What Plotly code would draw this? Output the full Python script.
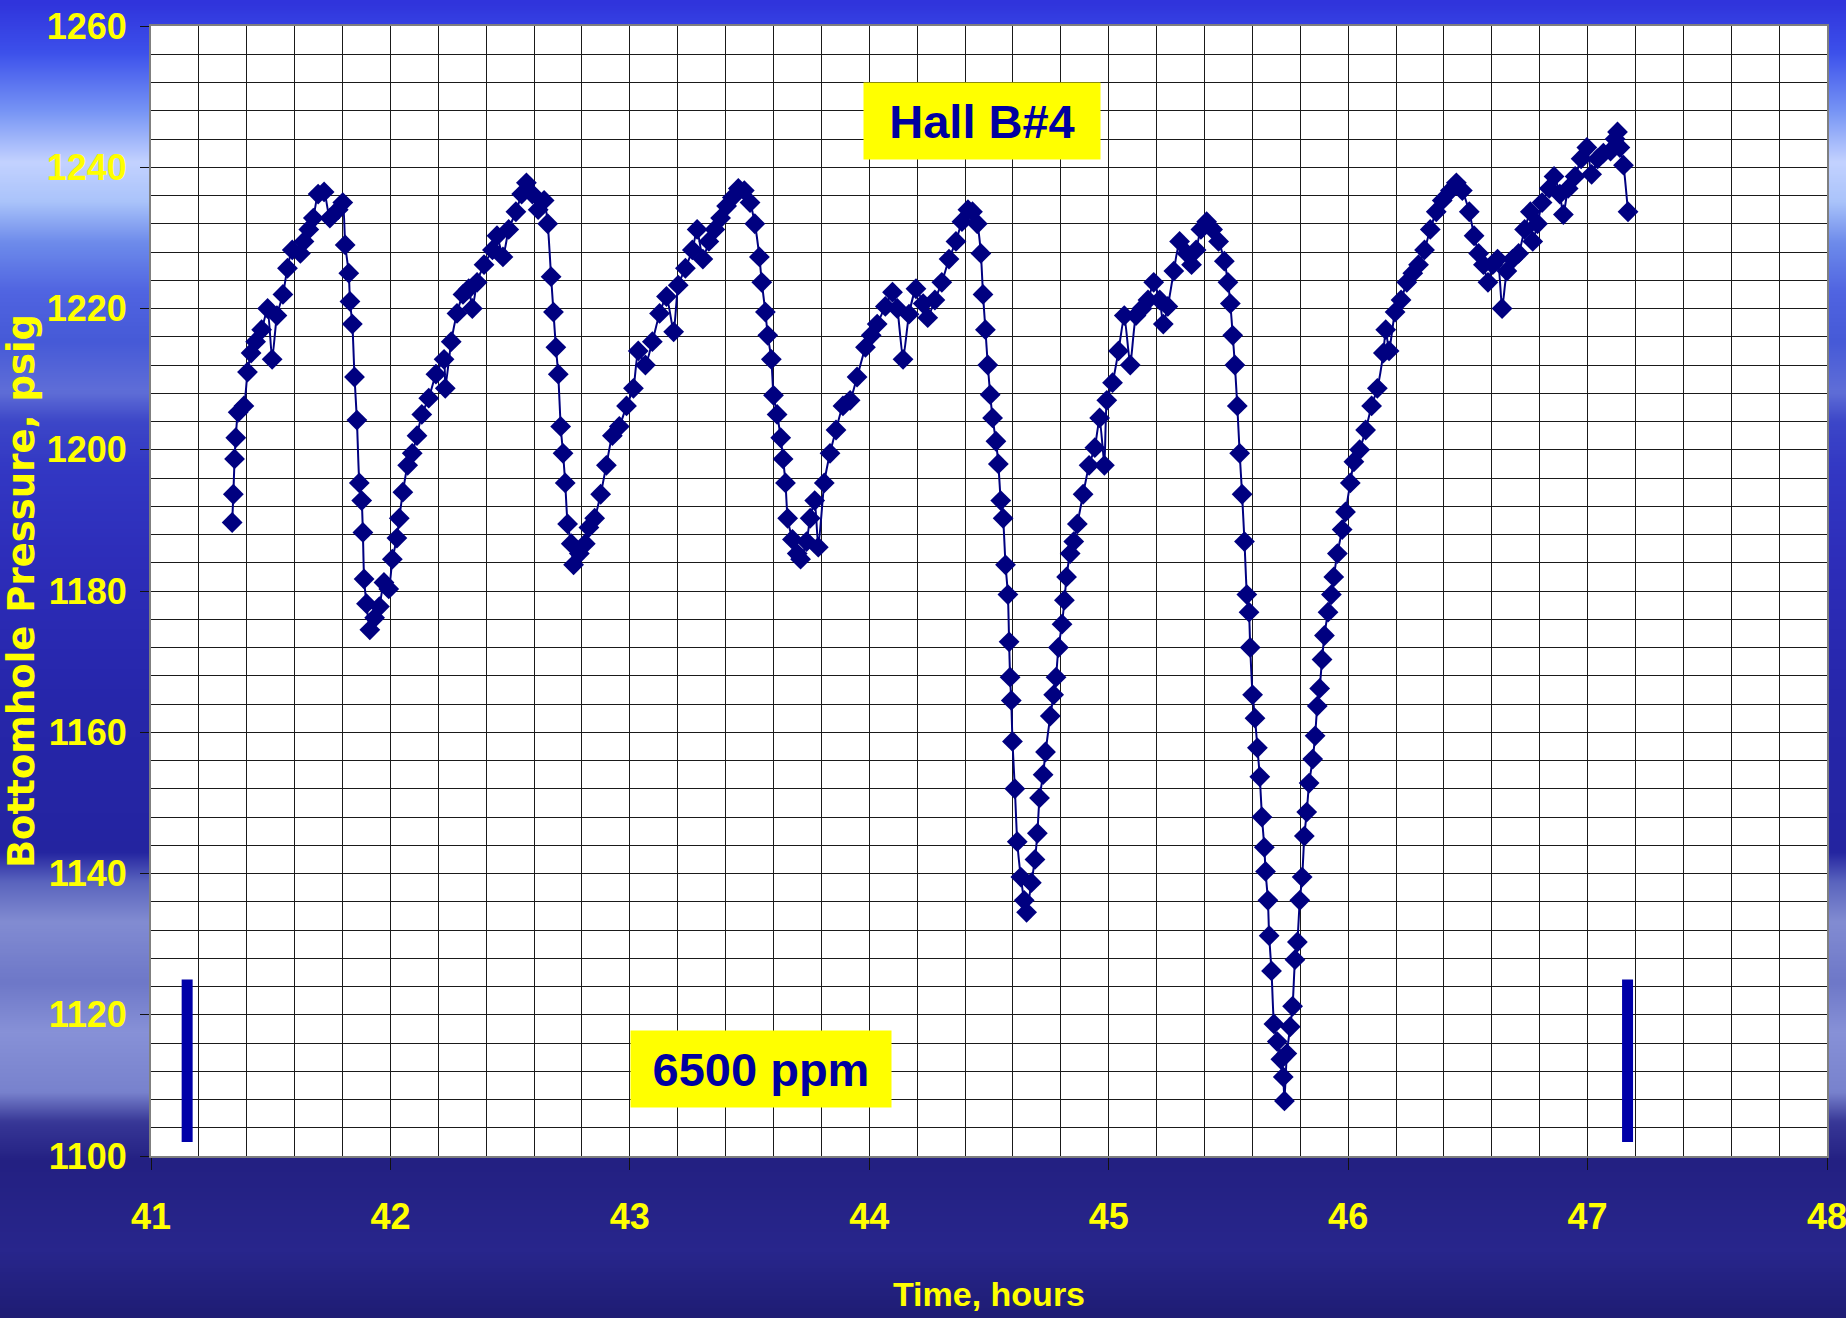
import base64, struct, zlib
import plotly.graph_objects as go

# ---------------- data ----------------
time_h = [
    41.339, 41.344, 41.349, 41.354, 41.364, 41.388, 41.403, 41.418, 41.437, 41.462,
    41.487, 41.506, 41.526, 41.551, 41.570, 41.590, 41.624, 41.639, 41.659, 41.678,
    41.698, 41.723, 41.747, 41.782, 41.801, 41.811, 41.826, 41.831, 41.841, 41.850,
    41.860, 41.870, 41.880, 41.885, 41.890, 41.900, 41.914, 41.934, 41.954, 41.973,
    41.993, 42.008, 42.027, 42.037, 42.052, 42.072, 42.091, 42.111, 42.131, 42.160,
    42.190, 42.224, 42.229, 42.254, 42.278, 42.303, 42.327, 42.342, 42.362, 42.391,
    42.426, 42.445, 42.470, 42.494, 42.524, 42.548, 42.568, 42.593, 42.617, 42.642,
    42.657, 42.671, 42.681, 42.691, 42.701, 42.711, 42.721, 42.730, 42.740, 42.755,
    42.765, 42.789, 42.814, 42.829, 42.853, 42.878, 42.902, 42.927, 42.956, 42.986,
    43.015, 43.035, 43.065, 43.094, 43.124, 43.153, 43.183, 43.202, 43.232, 43.261,
    43.281, 43.305, 43.330, 43.355, 43.379, 43.404, 43.428, 43.453, 43.478, 43.502,
    43.522, 43.541, 43.551, 43.566, 43.576, 43.591, 43.600, 43.615, 43.630, 43.640,
    43.650, 43.659, 43.679, 43.699, 43.713, 43.738, 43.753, 43.772, 43.787, 43.812,
    43.836, 43.861, 43.890, 43.920, 43.949, 43.984, 44.008, 44.033, 44.067, 44.097,
    44.117, 44.141, 44.166, 44.195, 44.225, 44.244, 44.274, 44.303, 44.333, 44.362,
    44.387, 44.412, 44.431, 44.451, 44.466, 44.475, 44.485, 44.495, 44.505, 44.515,
    44.529, 44.539, 44.549, 44.559, 44.569, 44.579, 44.584, 44.588, 44.593, 44.598,
    44.608, 44.618, 44.633, 44.647, 44.657, 44.677, 44.692, 44.702, 44.711, 44.726,
    44.736, 44.756, 44.770, 44.780, 44.790, 44.805, 44.815, 44.824, 44.839, 44.854,
    44.869, 44.893, 44.918, 44.942, 44.962, 44.982, 44.992, 45.016, 45.041, 45.065,
    45.090, 45.114, 45.139, 45.164, 45.188, 45.213, 45.228, 45.247, 45.272, 45.296,
    45.326, 45.346, 45.365, 45.385, 45.409, 45.434, 45.459, 45.483, 45.498, 45.508,
    45.518, 45.527, 45.537, 45.547, 45.557, 45.567, 45.577, 45.586, 45.591, 45.601,
    45.611, 45.621, 45.631, 45.640, 45.650, 45.655, 45.665, 45.670, 45.680, 45.690,
    45.704, 45.719, 45.729, 45.734, 45.744, 45.758, 45.768, 45.778, 45.788, 45.798,
    45.808, 45.817, 45.827, 45.837, 45.852, 45.862, 45.871, 45.881, 45.891, 45.901,
    45.916, 45.930, 45.940, 45.955, 45.975, 45.989, 46.009, 46.024, 46.048, 46.073,
    46.098, 46.122, 46.147, 46.157, 46.171, 46.196, 46.221, 46.245, 46.270, 46.294,
    46.319, 46.343, 46.368, 46.393, 46.427, 46.452, 46.477, 46.506, 46.526, 46.545,
    46.565, 46.584, 46.604, 46.624, 46.643, 46.663, 46.687, 46.712, 46.737, 46.761,
    46.771, 46.791, 46.810, 46.840, 46.860, 46.884, 46.899, 46.919, 46.948, 46.973,
    46.997, 47.017, 47.042, 47.066, 47.096, 47.115, 47.125, 47.135, 47.150, 47.169,
]
pressure_psig = [
    1189.7, 1193.7, 1198.7, 1201.7, 1205.3, 1206.2, 1211.0, 1213.7, 1215.3, 1217.0,
    1220.0, 1212.8, 1219.0, 1222.0, 1225.7, 1228.3, 1227.8, 1229.5, 1231.2, 1232.8,
    1236.2, 1236.5, 1232.8, 1234.0, 1235.0, 1229.0, 1225.0, 1221.0, 1217.8, 1210.3,
    1204.2, 1195.3, 1192.8, 1188.3, 1181.7, 1178.2, 1174.5, 1176.2, 1177.8, 1181.2,
    1180.3, 1184.5, 1187.5, 1190.3, 1194.0, 1197.8, 1199.5, 1202.0, 1205.0, 1207.3,
    1210.7, 1212.8, 1208.7, 1215.3, 1219.3, 1222.0, 1222.8, 1220.0, 1223.7, 1226.2,
    1228.3, 1230.3, 1227.3, 1231.2, 1233.7, 1236.2, 1237.8, 1236.2, 1234.0, 1235.3,
    1232.0, 1224.5, 1219.5, 1214.5, 1210.7, 1203.3, 1199.5, 1195.3, 1189.5, 1186.7,
    1183.7, 1185.3, 1186.7, 1189.0, 1190.3, 1193.7, 1197.8, 1202.0, 1203.3, 1206.2,
    1208.7, 1214.0, 1212.0, 1215.3, 1219.3, 1221.7, 1216.7, 1223.3, 1225.7, 1228.3,
    1231.2, 1227.0, 1229.5, 1231.2, 1232.8, 1234.5, 1235.7, 1237.0, 1236.7, 1235.0,
    1232.0, 1227.3, 1223.7, 1219.5, 1216.2, 1212.8, 1207.7, 1205.0, 1201.7, 1198.7,
    1195.3, 1190.3, 1187.3, 1185.3, 1184.5, 1187.0, 1190.3, 1192.8, 1186.2, 1195.3,
    1199.5, 1202.8, 1206.2, 1207.0, 1210.3, 1214.5, 1216.2, 1217.8, 1220.3, 1222.3,
    1220.0, 1212.8, 1219.2, 1222.8, 1220.7, 1218.7, 1221.2, 1223.7, 1227.0, 1229.5,
    1232.3, 1234.0, 1233.7, 1232.0, 1227.8, 1222.0, 1217.0, 1212.0, 1207.8, 1204.5,
    1201.2, 1198.0, 1192.8, 1190.3, 1183.7, 1179.5, 1172.8, 1167.8, 1164.5, 1158.7,
    1152.0, 1144.5, 1139.5, 1136.2, 1134.5, 1138.7, 1142.0, 1145.7, 1150.7, 1154.0,
    1157.2, 1162.3, 1165.3, 1167.8, 1172.0, 1175.3, 1178.7, 1182.0, 1185.3, 1187.0,
    1189.5, 1193.7, 1197.8, 1200.3, 1204.5, 1197.8, 1207.0, 1209.5, 1214.0, 1219.0,
    1212.0, 1219.0, 1220.0, 1221.2, 1223.7, 1221.2, 1217.8, 1220.3, 1225.3, 1229.5,
    1227.8, 1226.2, 1228.3, 1231.2, 1232.3, 1231.2, 1229.5, 1226.7, 1223.7, 1220.7,
    1216.2, 1212.0, 1206.2, 1199.5, 1193.7, 1187.0, 1179.5, 1177.0, 1172.0, 1165.3,
    1162.0, 1157.8, 1153.7, 1148.0, 1143.7, 1140.3, 1136.2, 1131.2, 1126.2, 1118.7,
    1116.2, 1113.7, 1111.2, 1107.8, 1114.5, 1118.3, 1121.2, 1127.8, 1130.3, 1136.2,
    1139.5, 1145.3, 1148.7, 1152.8, 1156.2, 1159.5, 1163.7, 1166.2, 1170.3, 1173.7,
    1177.0, 1179.5, 1182.0, 1185.3, 1188.7, 1191.2, 1195.3, 1198.3, 1200.0, 1202.8,
    1206.2, 1208.7, 1213.7, 1217.0, 1214.0, 1219.5, 1221.2, 1223.7, 1225.0, 1226.2,
    1228.3, 1231.2, 1233.7, 1235.3, 1236.7, 1237.8, 1236.7, 1233.7, 1230.3, 1227.8,
    1226.2, 1223.7, 1226.2, 1227.0, 1220.0, 1225.3, 1227.0, 1227.8, 1231.2, 1233.7,
    1229.5, 1232.0, 1235.0, 1237.0, 1238.7, 1236.2, 1233.3, 1237.0, 1238.7, 1241.2,
    1242.8, 1239.0, 1241.2, 1242.0, 1242.3, 1244.0, 1245.0, 1242.8, 1240.3, 1233.7,
]

# start / end markers of the 6500 ppm period
period_marks_h = [41.151, 47.167]
period_mark_low = 1102
period_mark_high = 1125

x_ticks = [41, 42, 43, 44, 45, 46, 47, 48]
y_ticks = [1100, 1120, 1140, 1160, 1180, 1200, 1220, 1240, 1260]

label_well = "Hall B#4"
label_conc = "6500 ppm"

# ---------------- background gradient (decoration) ----------------
W, H = 1846, 1318
stops = [
    (0, (48, 52, 220)), (50, (60, 80, 235)), (110, (120, 150, 245)),
    (160, (195, 210, 255)), (200, (170, 195, 250)), (240, (110, 140, 235)),
    (290, (80, 100, 225)), (340, (70, 90, 215)), (390, (95, 110, 215)),
    (420, (60, 70, 200)), (470, (50, 55, 195)), (560, (45, 45, 185)),
    (700, (38, 38, 170)), (850, (36, 36, 160)), (880, (90, 100, 190)),
    (920, (130, 140, 210)), (980, (110, 120, 200)), (1030, (135, 145, 215)),
    (1090, (120, 130, 205)), (1120, (55, 55, 150)), (1160, (35, 32, 130)),
    (1250, (40, 38, 140)), (1318, (30, 28, 115)),
]


def _color_at(y):
    for (y0, c0), (y1, c1) in zip(stops[:-1], stops[1:]):
        if y0 <= y <= y1:
            t = (y - y0) / (y1 - y0)
            return tuple(int(round(a + (b - a) * t)) for a, b in zip(c0, c1))
    return stops[-1][1]


def _png_uri(w, h):
    rows = []
    for r in range(h):
        c = _color_at(r * (H / h))
        rows.append(b"\x00" + bytes(c) * w)
    raw = b"".join(rows)

    def chunk(t, d):
        return struct.pack(">I", len(d)) + t + d + struct.pack(">I", zlib.crc32(t + d) & 0xFFFFFFFF)

    png = (b"\x89PNG\r\n\x1a\n"
           + chunk(b"IHDR", struct.pack(">IIBBBBB", w, h, 8, 2, 0, 0, 0))
           + chunk(b"IDAT", zlib.compress(raw, 9))
           + chunk(b"IEND", b""))
    return "data:image/png;base64," + base64.b64encode(png).decode()


bg_uri = _png_uri(2, 330)

# ---------------- figure ----------------
ML, MR, MT, MB = 151, 19, 26, 162
PW, PH = W - ML - MR, H - MT - MB

NAVY = "#000080"
YEL = "#FFFF00"
SANS = "Liberation Sans, Arial, sans-serif"

fig = go.Figure()

fig.add_trace(go.Scatter(
    x=time_h, y=pressure_psig, mode="lines+markers",
    line=dict(color=NAVY, width=2, shape="spline", smoothing=0.5),
    marker=dict(symbol="diamond", size=16, color=NAVY, line=dict(width=0)),
    showlegend=False, hoverinfo="x+y",
))

for xm in period_marks_h:
    fig.add_trace(go.Scatter(
        x=[xm, xm], y=[period_mark_low, period_mark_high], mode="lines",
        line=dict(color="#0000A8", width=11), showlegend=False, hoverinfo="skip",
    ))

# page background picture + white plotting area
fig.add_layout_image(dict(
    source=bg_uri, xref="paper", yref="paper",
    x=-ML / PW, y=1 + MT / PH, sizex=W / PW, sizey=H / PH,
    xanchor="left", yanchor="top", sizing="stretch", layer="below",
))
fig.add_shape(type="rect", xref="paper", yref="paper", x0=0, x1=1, y0=0, y1=1,
              fillcolor="white", line=dict(width=0), layer="below")

axis_common = dict(
    showgrid=True, gridcolor="#1a1a1a", gridwidth=1,
    showline=True, mirror=True, linecolor="#7f7f7f", linewidth=2,
    ticks="outside", tickcolor="#111111", tickwidth=1,
    zeroline=False, automargin=False, ticklabeloverflow="allow",
)

fig.update_xaxes(
    range=[41, 48], tickvals=x_ticks, ticktext=[str(v) for v in x_ticks],
    ticklen=12, ticklabelstandoff=16,
    tickfont=dict(family=SANS, size=36, color=YEL, weight="bold"),
    minor=dict(dtick=0.2, showgrid=True, gridcolor="#1a1a1a", gridwidth=1),
    title=dict(text="Time, hours", standoff=46,
               font=dict(family=SANS, size=34, color=YEL, weight="bold")),
    **axis_common,
)
fig.update_yaxes(
    range=[1100, 1260], tickvals=y_ticks, ticktext=[str(v) for v in y_ticks],
    ticklen=9, ticklabelstandoff=6,
    tickfont=dict(family=SANS, size=36, color=YEL, weight="bold"),
    minor=dict(dtick=4, showgrid=True, gridcolor="#1a1a1a", gridwidth=1),
    title=dict(text="Bottomhole Pressure, psig", standoff=12,
               font=dict(family="DejaVu Sans, sans-serif", size=37, color=YEL, weight="bold")),
    **axis_common,
)

fig.add_annotation(
    x=44.471, y=1246.5, xref="x", yref="y", text=label_well, showarrow=False,
    font=dict(family=SANS, size=47, color="#0000A0", weight="bold"),
    bgcolor=YEL, width=236, height=76, borderpad=0, align="center", valign="middle",
)
fig.add_annotation(
    x=43.548, y=1112.25, xref="x", yref="y", text=label_conc, showarrow=False,
    font=dict(family=SANS, size=47, color="#0000A0", weight="bold"),
    bgcolor=YEL, width=260, height=76, borderpad=0, align="center", valign="middle",
)

fig.update_layout(
    width=W, height=H, autosize=False,
    margin=dict(l=ML, r=MR, t=MT, b=MB, pad=0),
    paper_bgcolor="#2a2a9a", plot_bgcolor="white",
    showlegend=False,
)

fig.write_html(
    "out.html",
    config={"displayModeBar": False},
    post_script="document.body.style.margin='0';document.body.style.padding='0';",
)
